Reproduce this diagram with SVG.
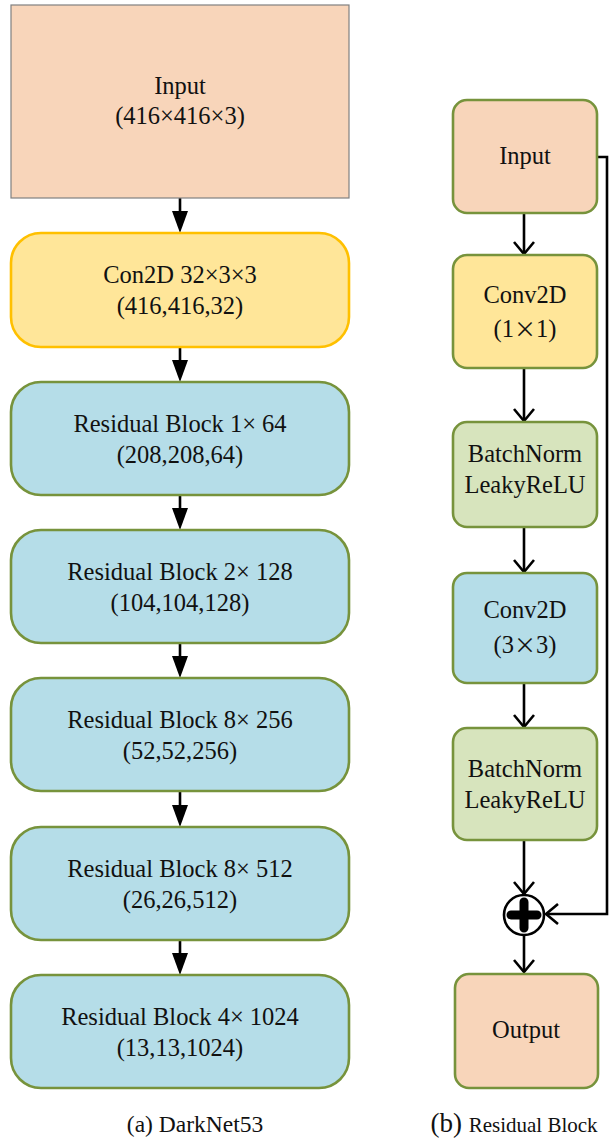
<svg xmlns="http://www.w3.org/2000/svg" width="613" height="1140" viewBox="0 0 613 1140" font-family="'Liberation Serif', 'Times New Roman', Times, serif">
<style>
text{font-family:'Liberation Serif','Times New Roman',Times,serif;fill:#111;text-anchor:middle}
.t{font-size:24.5px}
.peach{fill:#F8D5BA}
.yel{fill:#FFE699}
.blue{fill:#B5DDE8}
.lgreen{fill:#D7E4BD}
.gs{stroke:#77933C;stroke-width:2.6}
.c{stroke:#000;stroke-width:2.6;fill:none}
</style>
<defs>
<marker id="tri" viewBox="0 0 22 16" refX="12" refY="8" markerWidth="22" markerHeight="16" markerUnits="userSpaceOnUse" orient="auto">
<path d="M0,0 L22,8 L0,16 z" fill="#000"/>
</marker>
<marker id="vee" viewBox="0 0 14 22" refX="13" refY="11" markerWidth="14" markerHeight="22" markerUnits="userSpaceOnUse" orient="auto" overflow="visible">
<path d="M1,1 L13,11 L1,21" fill="none" stroke="#000" stroke-width="2.6"/>
</marker>
</defs>

<g id="connectors">
<line class="c" x1="180" y1="198" x2="180" y2="223" marker-end="url(#tri)"/>
<line class="c" x1="180" y1="347" x2="180" y2="372" marker-end="url(#tri)"/>
<line class="c" x1="180" y1="495" x2="180" y2="520" marker-end="url(#tri)"/>
<line class="c" x1="180" y1="643" x2="180" y2="668" marker-end="url(#tri)"/>
<line class="c" x1="180" y1="791" x2="180" y2="817" marker-end="url(#tri)"/>
<line class="c" x1="180" y1="940" x2="180" y2="965" marker-end="url(#tri)"/>

<line class="c" x1="524" y1="213" x2="524" y2="254" marker-end="url(#vee)"/>
<line class="c" x1="524" y1="368" x2="524" y2="421" marker-end="url(#vee)"/>
<line class="c" x1="524" y1="527" x2="524" y2="572" marker-end="url(#vee)"/>
<line class="c" x1="524" y1="683" x2="524" y2="727" marker-end="url(#vee)"/>
<line class="c" x1="524" y1="840" x2="524" y2="894" marker-end="url(#vee)"/>
<line class="c" x1="524" y1="936" x2="524" y2="972" marker-end="url(#vee)"/>
<polyline class="c" points="597,157 607,157 607,914 546,914" marker-end="url(#vee)"/>
</g>

<g id="n_input">
<rect x="11" y="5" width="338" height="193" class="peach" stroke="#808080" stroke-width="1.2"/>
<text class="t" x="180" y="94">Input</text>
<text class="t" x="180" y="124">(416×416×3)</text>
</g>
<g id="n_conv">
<rect x="11" y="233" width="338" height="114" rx="30" class="yel" stroke="#FFC000" stroke-width="2.6"/>
<text class="t" x="180" y="283">Con2D 32×3×3</text>
<text class="t" x="180" y="314">(416,416,32)</text>
</g>
<g id="n_rb1">
<rect x="11" y="382" width="338" height="113" rx="30" class="blue gs"/>
<text class="t" x="180" y="432">Residual Block 1× 64</text>
<text class="t" x="180" y="463">(208,208,64)</text>
</g>
<g id="n_rb2">
<rect x="11" y="530" width="338" height="113" rx="30" class="blue gs"/>
<text class="t" x="180" y="580">Residual Block 2× 128</text>
<text class="t" x="180" y="611">(104,104,128)</text>
</g>
<g id="n_rb3">
<rect x="11" y="678" width="338" height="113" rx="30" class="blue gs"/>
<text class="t" x="180" y="728">Residual Block 8× 256</text>
<text class="t" x="180" y="759">(52,52,256)</text>
</g>
<g id="n_rb4">
<rect x="11" y="827" width="338" height="113" rx="30" class="blue gs"/>
<text class="t" x="180" y="877">Residual Block 8× 512</text>
<text class="t" x="180" y="908">(26,26,512)</text>
</g>
<g id="n_rb5">
<rect x="11" y="975" width="338" height="113" rx="30" class="blue gs"/>
<text class="t" x="180" y="1025">Residual Block 4× 1024</text>
<text class="t" x="180" y="1056">(13,13,1024)</text>
</g>

<g id="r_input">
<rect x="453" y="100" width="144" height="113" rx="14" class="peach gs"/>
<text class="t" x="525" y="164">Input</text>
</g>
<g id="r_conv1">
<rect x="453" y="255" width="144" height="113" rx="14" class="yel gs"/>
<text class="t" x="525" y="303">Conv2D</text>
<text class="t" x="525" y="337">(1<tspan font-family="'Noto Sans CJK SC',sans-serif" font-size="22">×</tspan>1)</text>
</g>
<g id="r_bn1">
<rect x="453" y="422" width="144" height="105" rx="14" class="lgreen gs"/>
<text class="t" x="525" y="462">BatchNorm</text>
<text class="t" x="525" y="493">LeakyReLU</text>
</g>
<g id="r_conv3">
<rect x="453" y="573" width="144" height="110" rx="14" class="blue gs"/>
<text class="t" x="525" y="618">Conv2D</text>
<text class="t" x="525" y="653">(3<tspan font-family="'Noto Sans CJK SC',sans-serif" font-size="22">×</tspan>3)</text>
</g>
<g id="r_bn2">
<rect x="453" y="728" width="144" height="112" rx="14" class="lgreen gs"/>
<text class="t" x="525" y="777">BatchNorm</text>
<text class="t" x="525" y="808">LeakyReLU</text>
</g>
<g id="r_add">
<circle cx="524" cy="915" r="20" fill="#fff" stroke="#000" stroke-width="2.6"/>
<path d="M524,902 V928 M511,915 H537" stroke="#000" stroke-width="9" stroke-linecap="round" fill="none"/>
</g>
<g id="r_output">
<rect x="455" y="974" width="143" height="114" rx="14" class="peach gs"/>
<text class="t" x="526" y="1038">Output</text>
</g>

<g id="captions">
<text x="195" y="1132" font-size="23.5">(a) DarkNet53</text>
<text x="514" y="1132"><tspan font-size="27">(b) </tspan><tspan font-size="21">Residual Block</tspan></text>
</g>
</svg>
